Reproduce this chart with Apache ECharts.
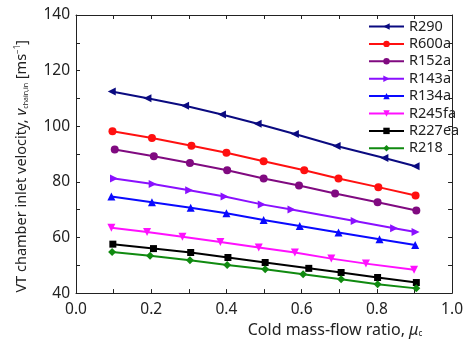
<!DOCTYPE html>
<html><head><meta charset="utf-8">
<script src="https://cdn.jsdelivr.net/npm/echarts@6/dist/echarts.min.js"></script>
<style>html,body{margin:0;padding:0;background:#fff}#c{width:466px;height:343px}</style>
</head><body><div id="c"></div>
<script>
var seriesNames = ['R290','R600a','R152a','R143a','R134a','R245fa','R227ea','R218'];
var xR290   = [0.095,0.19,0.29,0.388,0.483,0.582,0.693,0.82,0.903];
var yR290   = [112.5,110.1,107.4,104.2,100.9,97.2,92.9,88.6,85.6];
var xR600a  = [0.097,0.202,0.307,0.400,0.499,0.607,0.698,0.804,0.903];
var yR600a  = [98.2,95.8,93.0,90.5,87.4,84.2,81.2,78.1,75.1];
var xR152a  = [0.103,0.207,0.303,0.402,0.499,0.593,0.689,0.802,0.905];
var yR152a  = [91.6,89.2,86.8,84.2,81.2,78.7,75.8,72.7,69.7];
var xR143a  = [0.101,0.204,0.301,0.395,0.494,0.573,0.741,0.846,0.903];
var yR143a  = [81.2,79.2,77.0,74.7,71.9,70.1,65.9,63.3,62.0];
var xR134a  = [0.094,0.202,0.305,0.400,0.499,0.595,0.698,0.807,0.902];
var yR134a  = [74.7,72.7,70.7,68.7,66.3,64.1,61.8,59.4,57.3];
var xR245fa = [0.094,0.189,0.283,0.384,0.486,0.582,0.679,0.771,0.899];
var yR245fa = [63.5,62.0,60.3,58.4,56.4,54.6,52.4,50.6,48.4];
var xR227ea = [0.098,0.206,0.305,0.404,0.503,0.619,0.705,0.802,0.905];
var yR227ea = [57.6,56.0,54.6,52.8,51.0,48.9,47.4,45.6,43.8];
var xR218   = [0.096,0.197,0.303,0.402,0.503,0.604,0.705,0.802,0.905];
var yR218   = [54.8,53.4,51.8,50.1,48.6,46.8,45.0,43.2,41.7];

var xs = [xR290,xR600a,xR152a,xR143a,xR134a,xR245fa,xR227ea,xR218];
var ys = [yR290,yR600a,yR152a,yR143a,yR134a,yR245fa,yR227ea,yR218];
var colors = ['#0a0a80','#ff1010','#800a80','#8a10ff','#0a0aff','#ff10ff','#000000','#108a10'];
var symbols = ['triangle','circle','circle','triangle','triangle','triangle','rect','diamond'];
var rotates = [90,0,0,-90,0,180,0,0];
var sizes = [8,8,8,8,8,8,7,8];

var FONT = 'Noto Sans';
var series = seriesNames.map(function(n,i){
  return {
    name:n, type:'line',
    data: xs[i].map(function(x,j){return [x, ys[i][j]];}),
    symbol: symbols[i], symbolRotate: rotates[i], symbolSize: sizes[i],
    lineStyle:{color:colors[i], width:2},
    itemStyle:{color:colors[i]},
    showAllSymbol:true, animation:false
  };
});

var axisCommon = {
  axisLine:{show:true, onZero:false, lineStyle:{color:'#222', width:1}},
  axisTick:{show:true, inside:true, length:4, lineStyle:{color:'#222'}},
  minorTick:{show:true, splitNumber:2, length:4, lineStyle:{color:'#222'}},
  splitLine:{show:false}
};

var option = {
  animation:false,
  grid:{left:76, right:11, top:15, bottom:49},
  legend:{
    orient:'vertical', left:368, top:19, padding:0,
    itemWidth:35, itemHeight:8, itemGap:2.4,
    textStyle:{fontFamily:FONT, fontSize:14.5, color:'#222', lineHeight:14},
    data: seriesNames
  },
  graphic:{elements:[{
    type:'text', left:14, top:40,
    style:{
      text:'{a|VT chamber inlet velocity, }{i|v}{s|chain,in}{a| [ms}{p|−1}{a|]}',
      rich:{
        a:{fontFamily:FONT, fontSize:14.5, fill:'#222'},
        i:{fontFamily:FONT, fontSize:14.5, fontStyle:'italic', fill:'#222'},
        s:{fontFamily:FONT, fontSize:7, fill:'#222', padding:[8,0,0,0]},
        p:{fontFamily:FONT, fontSize:8, fill:'#222', padding:[0,0,8,0]}
      }
    },
    rotation:Math.PI/2
  }]},
  xAxis:[
    Object.assign({type:'value', min:0, max:1, interval:0.2, position:'bottom',
      axisLabel:{fontFamily:FONT, fontSize:15.5, color:'#222', margin:8,
        formatter:function(v){return v.toFixed(1);}},
      name:'{a|Cold mass-flow ratio, }{i|μ}{s|c}', nameLocation:'middle', nameGap:23,
      nameTextStyle:{padding:[0,0,0,142], rich:{
        a:{fontFamily:FONT, fontSize:16, color:'#222'},
        i:{fontFamily:FONT, fontSize:16, fontStyle:'italic', color:'#222'},
        s:{fontFamily:FONT, fontSize:8, color:'#222', padding:[8,0,0,0]}
      }}
    }, axisCommon),
    Object.assign({type:'value', min:0, max:1, interval:0.2, position:'top',
      axisLabel:{show:false}}, axisCommon)
  ],
  yAxis:[
    Object.assign({type:'value', min:40, max:140, interval:20, position:'left',
      axisLabel:{fontFamily:FONT, fontSize:15.5, color:'#222', margin:6}
    }, axisCommon),
    Object.assign({type:'value', min:40, max:140, interval:20, position:'right',
      axisLabel:{show:false}}, axisCommon)
  ],
  series: series
};
var chart = echarts.init(document.getElementById('c'), null, {renderer:'canvas'});
chart.setOption(option);
</script></body></html>
